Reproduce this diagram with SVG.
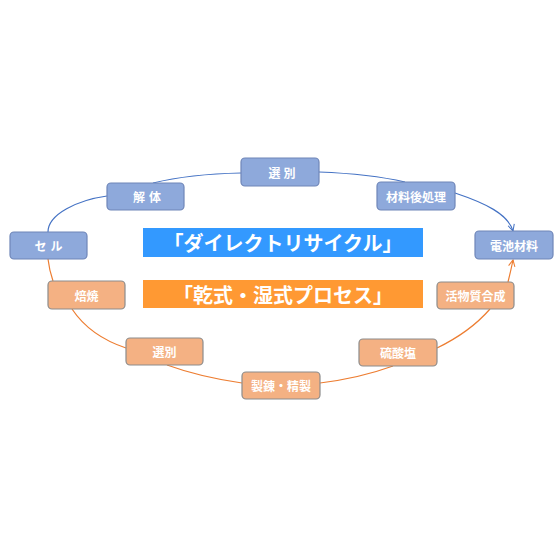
<svg xmlns="http://www.w3.org/2000/svg" width="560" height="560" viewBox="0 0 560 560">
<defs>
<marker id="ab" viewBox="0 0 10 10" refX="9" refY="5" markerWidth="8" markerHeight="8" orient="auto" markerUnits="userSpaceOnUse"><path d="M1,1 L9,5 L1,9" fill="none" stroke="#4472C4" stroke-width="1.3"/></marker>
<marker id="ao" viewBox="0 0 10 10" refX="9" refY="5" markerWidth="8" markerHeight="8" orient="auto" markerUnits="userSpaceOnUse"><path d="M1,1 L9,5 L1,9" fill="none" stroke="#ED7D31" stroke-width="1.3"/></marker>
</defs>
<style>
.bb{fill:#8EA9DB;stroke:#6F86B8;stroke-width:1.2}
.ob{fill:#F4B183;stroke:#8C8C8C;stroke-width:1.2}
.t{font-family:"Noto Sans CJK JP","Noto Sans",sans-serif;font-size:12px;fill:#fff;font-weight:bold;text-anchor:middle;dominant-baseline:central}
.bn{font-family:"Noto Sans CJK JP","Noto Sans",sans-serif;font-size:20px;fill:#fff;font-weight:bold;text-anchor:middle;dominant-baseline:central}
.cb{fill:none;stroke:#4472C4;stroke-width:1.2}
.co{fill:none;stroke:#ED7D31;stroke-width:1.2}
</style>
<rect width="560" height="560" fill="#fff"/>
<g id="connectors">
<path class="cb" d="M48,232 C48,214 78,200 107,196"/>
<path class="cb" d="M153,183 Q190,174 241,173"/>
<path class="cb" d="M319,172 Q370,174 405,182"/>
<path class="cb" d="M455,193 C485,203 508,214 513,231" marker-end="url(#ab)"/>
<path class="co" d="M48,259 C49,268 51,275 53,281"/>
<path class="co" d="M72,309 Q90,336 126,348"/>
<path class="co" d="M167,365 Q200,377 242,383"/>
<path class="co" d="M320,383 Q360,378 393,366"/>
<path class="co" d="M437,348 Q470,332 490,309"/>
<path class="co" d="M508,282 Q511,270 513,260" marker-end="url(#ao)"/>
</g>
<g id="banner-direct"><rect x="143" y="228" width="280" height="29" fill="#3399FF"/><text class="bn" x="283" y="242.5">「ダイレクトリサイクル」</text></g>
<g id="banner-process"><rect x="143" y="280" width="280" height="28" fill="#FF9933"/><text class="bn" x="283" y="294">「乾式・湿式プロセス」</text></g>
<g id="cell"><rect class="bb" x="10" y="232" width="77" height="27" rx="4"/><text class="t" x="50.5" y="245.5" letter-spacing="4">セル</text></g>
<g id="kaitai"><rect class="bb" x="107" y="183" width="77" height="27" rx="4"/><text class="t" x="149" y="196.5" letter-spacing="4">解体</text></g>
<g id="senbetsu1"><rect class="bb" x="241" y="158" width="78" height="28" rx="4"/><text class="t" x="283.5" y="172" letter-spacing="3">選別</text></g>
<g id="zairyo"><rect class="bb" x="377" y="182" width="78" height="28" rx="4"/><text class="t" x="416" y="196">材料後処理</text></g>
<g id="denchi"><rect class="bb" x="475" y="231" width="78" height="28" rx="4"/><text class="t" x="514" y="245" font-size="13">電池材料</text></g>
<g id="baisho"><rect class="ob" x="48" y="281" width="77" height="28" rx="4"/><text class="t" x="86.5" y="295">焙焼</text></g>
<g id="senbetsu2"><rect class="ob" x="126" y="338" width="77" height="27" rx="4"/><text class="t" x="164.5" y="351.5">選別</text></g>
<g id="seiren"><rect class="ob" x="242" y="372" width="78" height="27" rx="4"/><text class="t" x="281" y="385.5">製錬・精製</text></g>
<g id="ryusan"><rect class="ob" x="359" y="339" width="78" height="27" rx="4"/><text class="t" x="398" y="352.5" font-size="13">硫酸塩</text></g>
<g id="kasseibushitsu"><rect class="ob" x="437" y="282" width="77" height="27" rx="4"/><text class="t" x="475.5" y="295.5" font-size="11">活物質合成</text></g>
</svg>
